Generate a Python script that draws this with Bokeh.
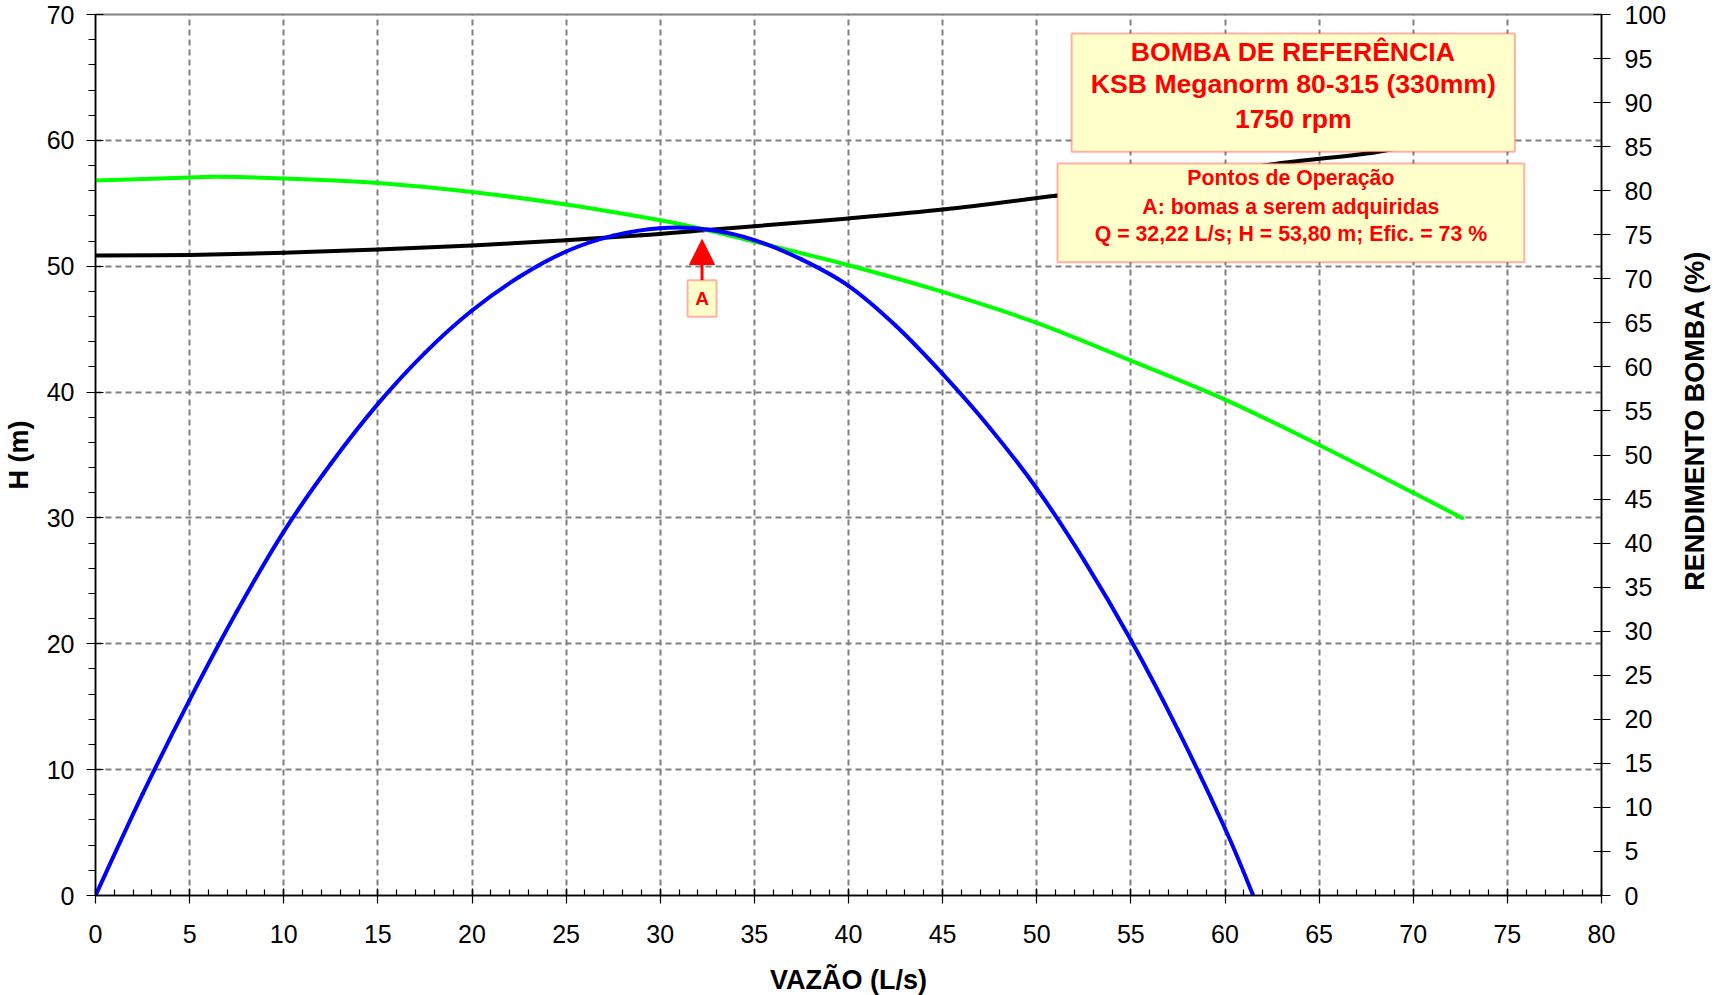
import math
from bokeh.plotting import figure
from bokeh.models import (Range1d, LinearAxis, FixedTicker, BoxAnnotation, Label,
                          Arrow, NormalHead)
from bokeh.embed import file_html
from bokeh.resources import INLINE

# ---------------- data ----------------
# pump head curve H(Q)  (left axis, m)
vazao_bomba = [0, 5, 6.7, 10, 15, 20, 25, 30, 32.3, 35, 40, 45, 50, 55, 60, 65, 70, 72.6]
altura_bomba = [56.81, 57.05, 57.1, 56.97, 56.62, 55.9, 54.9, 53.65, 52.94, 51.95, 50.08,
                47.96, 45.5, 42.5, 39.4, 35.8, 32.0, 30.0]

# system curve (left axis, m)
vazao_sistema = [0, 5, 10, 15, 20, 25, 29, 32.3, 35, 40, 45, 51, 57, 63, 68, 72.6]
altura_sistema = [50.85, 50.9, 51.06, 51.32, 51.64, 52.07, 52.46, 52.86, 53.18, 53.8, 54.5,
                  55.6, 56.8, 58.2, 59.06, 60.5]

# pump efficiency (right axis, %)
vazao_rend = [0, 2.5, 5, 7.5, 10, 12.5, 15, 17.5, 20, 22.5, 25, 27.5, 30, 32.5, 35, 37.5,
              40, 42.5, 45, 47.5, 50, 52.5, 55, 57.5, 60, 61.5]
rendimento = [0, 11.5, 22.2, 32.2, 41.3, 49.0, 55.8, 61.6, 66.4, 70.2, 73.1, 74.9, 75.75,
              75.6, 74.4, 72.2, 69.2, 64.7, 59.2, 53.1, 46.2, 38.1, 29.0, 18.8, 7.6, 0]

# operating point
op_q = 32.22
op_h = 53.80
op_eff = 73

# ticks
x_ticks = list(range(0, 81, 5))
x_minor = list(range(0, 81, 1))
h_ticks = list(range(0, 71, 10))
h_minor = list(range(0, 71, 2))
eff_ticks = list(range(0, 101, 5))

titulo = ["BOMBA DE REFERÊNCIA", "KSB Meganorm 80-315 (330mm)", "1750 rpm"]
def br(v, n):
    return f"{v:.{n}f}".replace(".", ",")
operacao = ["Pontos de Operação",
            "A: bomas a serem adquiridas",
            f"Q = {br(op_q, 2)} L/s; H = {br(op_h, 2)} m; Efic. = {op_eff} %"]
eixo_x = "VAZÃO (L/s)"
eixo_h = "H (m)"
eixo_r = "RENDIMENTO BOMBA (%)"

# ---------------- figure ----------------
FONT = "Liberation Sans"
RED = "#FF0000"
YEL = "#FFFFCC"

p = figure(frame_width=1506, frame_height=881, output_backend="svg", toolbar_location=None,
           x_range=Range1d(0, 80), y_range=Range1d(0, 70),
           min_border_left=89, min_border_right=5, min_border_top=14, min_border_bottom=5,
           background_fill_color="white", border_fill_color="white")
p.extra_y_ranges = {"eff": Range1d(0, 100)}
p.outline_line_color = "#808080"
p.outline_line_width = 2

def style_axis(ax):
    ax.axis_line_color = "black"
    ax.axis_line_width = 1.5
    ax.major_tick_line_color = "black"
    ax.minor_tick_line_color = "black"
    ax.major_tick_line_width = 1.2
    ax.minor_tick_line_width = 1.2
    ax.major_label_text_font = FONT
    ax.major_label_text_font_size = "25px"
    ax.major_label_text_color = "black"
    ax.axis_label_text_font = FONT
    ax.axis_label_text_font_size = "27px"
    ax.axis_label_text_font_style = "bold"
    ax.axis_label_text_color = "black"

xa = p.xaxis[0]
xa.ticker = FixedTicker(ticks=x_ticks, minor_ticks=x_minor)
xa.axis_label = eixo_x
style_axis(xa)
xa.major_tick_in = 7
xa.major_tick_out = 8
xa.minor_tick_in = 6
xa.minor_tick_out = 0
xa.major_label_standoff = 21
xa.axis_label_standoff = 19

ya = p.yaxis[0]
ya.ticker = FixedTicker(ticks=h_ticks, minor_ticks=h_minor)
ya.axis_label = eixo_h
style_axis(ya)
ya.major_tick_in = 8
ya.major_tick_out = 9
ya.minor_tick_in = 0
ya.minor_tick_out = 7
ya.major_label_standoff = 12
ya.axis_label_standoff = 10

# right axis: ticks and numbers
ra = LinearAxis(y_range_name="eff", ticker=FixedTicker(ticks=eff_ticks, minor_ticks=[]))
style_axis(ra)
ra.major_tick_in = 8
ra.major_tick_out = 9
ra.minor_tick_in = 0
ra.minor_tick_out = 0
ra.major_label_standoff = 14
p.add_layout(ra, "right")

# right axis title, reading upward, starting at the reference's position
titulo_r_inicio = 34.6
rt = LinearAxis(y_range_name="eff",
                ticker=FixedTicker(ticks=[titulo_r_inicio], minor_ticks=[]),
                major_label_overrides={titulo_r_inicio: eixo_r},
                major_label_orientation=math.pi / 2)
style_axis(rt)
rt.axis_line_color = None
rt.major_tick_line_color = None
rt.minor_tick_line_color = None
rt.major_tick_in = 0
rt.major_tick_out = 0
rt.minor_tick_in = 0
rt.minor_tick_out = 0
rt.major_label_standoff = 26
rt.major_label_text_font_size = "27px"
rt.major_label_text_font_style = "bold"
p.add_layout(rt, "right")

for g in (p.xgrid[0], p.ygrid[0]):
    g.grid_line_color = "#808080"
    g.grid_line_width = 2
    g.grid_line_dash = "6 4"
p.xgrid[0].ticker = FixedTicker(ticks=x_ticks)
p.ygrid[0].ticker = FixedTicker(ticks=h_ticks)

# smoothed line rendering (like a spreadsheet "smoothed line"): Catmull-Rom -> Bezier
def smooth(xs, ys):
    n = len(xs)
    out = {k: [] for k in ("x0", "y0", "x1", "y1", "cx0", "cy0", "cx1", "cy1")}
    for i in range(n - 1):
        a = max(i - 1, 0)
        d = min(i + 2, n - 1)
        out["x0"].append(xs[i]); out["y0"].append(ys[i])
        out["x1"].append(xs[i + 1]); out["y1"].append(ys[i + 1])
        out["cx0"].append(xs[i] + (xs[i + 1] - xs[a]) / 6)
        out["cy0"].append(ys[i] + (ys[i + 1] - ys[a]) / 6)
        out["cx1"].append(xs[i + 1] - (xs[d] - xs[i]) / 6)
        out["cy1"].append(ys[i + 1] - (ys[d] - ys[i]) / 6)
    return out

p.bezier(**smooth(vazao_sistema, altura_sistema), line_color="black", line_width=4,
         line_cap="round")
p.bezier(**smooth(vazao_bomba, altura_bomba), line_color="#00FF00", line_width=4,
         line_cap="round")
p.bezier(**smooth(vazao_rend, rendimento), line_color="#0000FF", line_width=4,
         line_cap="round", y_range_name="eff")

# info boxes
p.add_layout(BoxAnnotation(left=51.85, right=75.4, bottom=59.1, top=68.5,
                           fill_color=YEL, fill_alpha=1, line_color=RED, line_width=2))
p.add_layout(BoxAnnotation(left=51.1, right=75.9, bottom=50.32, top=58.16,
                           fill_color=YEL, fill_alpha=1, line_color=RED, line_width=2))
for txt, yy in zip(titulo, [67.06, 64.44, 61.66]):
    p.add_layout(Label(x=63.63, y=yy, text=txt, text_align="center", text_baseline="middle",
                       text_font=FONT, text_font_size="26.6px", text_font_style="bold",
                       text_color=RED))
for txt, yy in zip(operacao, [57.0, 54.74, 52.52]):
    p.add_layout(Label(x=63.5, y=yy, text=txt, text_align="center", text_baseline="middle",
                       text_font=FONT, text_font_size="21.3px", text_font_style="bold",
                       text_color=RED))

# operating point marker
p.add_layout(Arrow(end=NormalHead(size=25, fill_color=RED, line_color=RED, line_width=1),
                   x_start=op_q, y_start=48.89, x_end=op_q, y_end=52.12,
                   line_color=RED, line_width=3))
p.add_layout(BoxAnnotation(left=op_q - 0.77, right=op_q + 0.77, bottom=45.98, top=48.89,
                           fill_color=YEL, fill_alpha=1, line_color=RED, line_width=2))
p.add_layout(Label(x=op_q, y=47.45, text="A", text_align="center", text_baseline="middle",
                   text_font=FONT, text_font_size="19px", text_font_style="bold",
                   text_color=RED))

open("out.html", "w").write(file_html(p, INLINE))
